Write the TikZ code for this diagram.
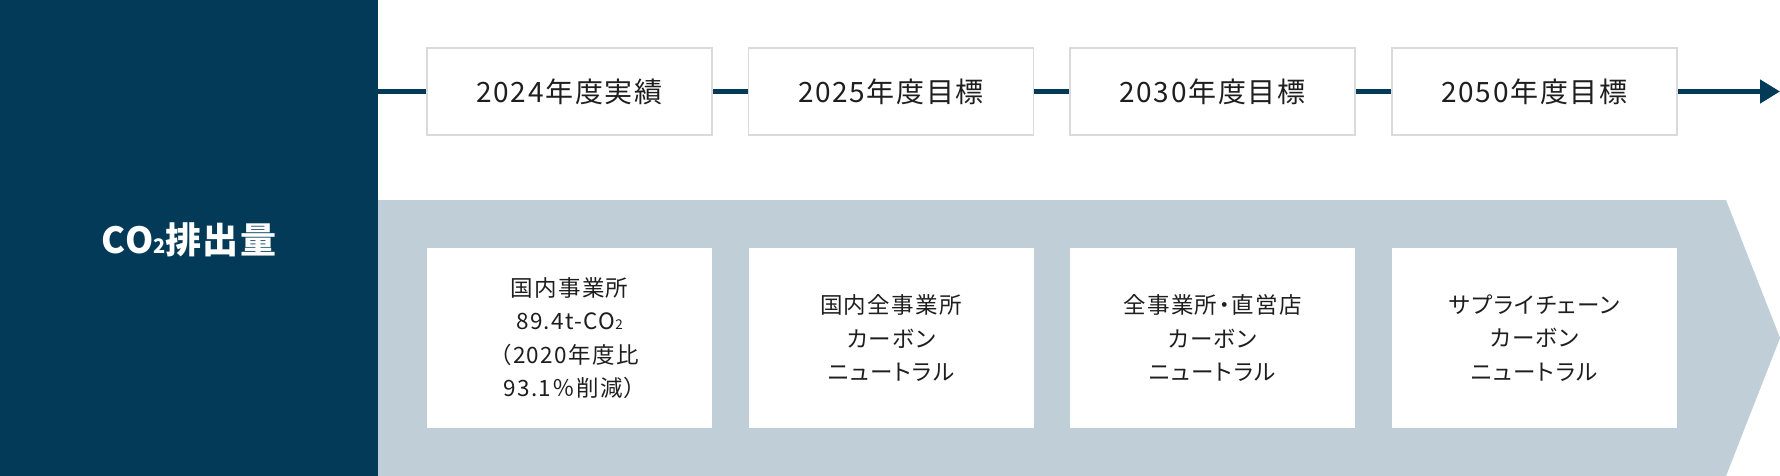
\documentclass[tikz,border=0pt]{standalone}
\usepackage{fontspec}
\usetikzlibrary{arrows.meta}
\newfontfamily\jptop[LetterSpace=6]{Noto Sans CJK JP}
\newfontfamily\jpbody[LetterSpace=6,RawFeature=+palt]{Noto Sans CJK JP}
\newfontfamily\jphead[LetterSpace=3]{Noto Sans CJK JP}
\definecolor{navy}{HTML}{033A58}
\definecolor{chev}{HTML}{BFCED7}
\definecolor{boxline}{HTML}{DADADA}
\definecolor{ink}{HTML}{1E1E1E}
\tikzset{
  panel/.style={fill=navy, draw=none, minimum width=378pt, minimum height=476pt, anchor=north west, inner sep=0pt},
  headlabel/.style={text=white, font=\jphead\bfseries\fontsize{36}{36}\selectfont, inner sep=0pt},
  yearbox/.style={fill=white, draw=boxline, line width=1.5pt, minimum width=285pt, minimum height=87pt, inner sep=0pt, text=ink, font=\jptop\fontsize{28}{28}\selectfont},
  goalbox/.style={fill=white, draw=none, minimum width=285pt, minimum height=180pt, inner sep=0pt, text=ink, align=center, font=\jpbody\fontsize{22.5}{33.5}\selectfont},
  timeline/.style={draw=navy, line width=4.5pt},
}
\begin{document}
\begin{tikzpicture}[x=1pt,y=-1pt]
\useasboundingbox (0,0) rectangle (1780,476);
\fill[white] (0,0) rectangle (1780,476);
% chevron band
\fill[chev] (378,200) -- (1726,200) -- (1780,338) -- (1726,476) -- (378,476) -- cycle;
% left panel
\node[panel] (left) at (0,0) {};
\node[headlabel] (colabel) at (189,240) {CO{\fontsize{20}{20}\selectfont 2}排出量};
% year boxes
\node[yearbox] (t1) at (569.5,91.5) {2024年度実績};
\node[yearbox] (t2) at (891,91.5) {2025年度目標};
\node[yearbox] (t3) at (1212.5,91.5) {2030年度目標};
\node[yearbox] (t4) at (1534.5,91.5) {2050年度目標};
\coordinate (tend) at (1780,91.5);
% timeline
\draw[timeline] (t1.west -| left.east) -- (t1.west);
\draw[timeline] (t1.east) -- (t2.west);
\draw[timeline] (t2.east) -- (t3.west);
\draw[timeline] (t3.east) -- (t4.west);
\draw[timeline, -{Triangle[length=20pt,width=23pt]}] (t4.east) -- (tend);
% goal boxes
\node[goalbox] (g1) at (569.5,338) {国内事業所\\89.4t-CO{\fontsize{13.5}{13.5}\selectfont 2}\\（2020年度比\\93.1％削減）};
\node[goalbox] (g2) at (891,338) {国内全事業所\\カーボン\\ニュートラル};
\node[goalbox] (g3) at (1212.5,338) {全事業所・直営店\\カーボン\\ニュートラル};
\node[goalbox] (g4) at (1534.5,338) {サプライチェーン\\カーボン\\ニュートラル};
\end{tikzpicture}
\end{document}
